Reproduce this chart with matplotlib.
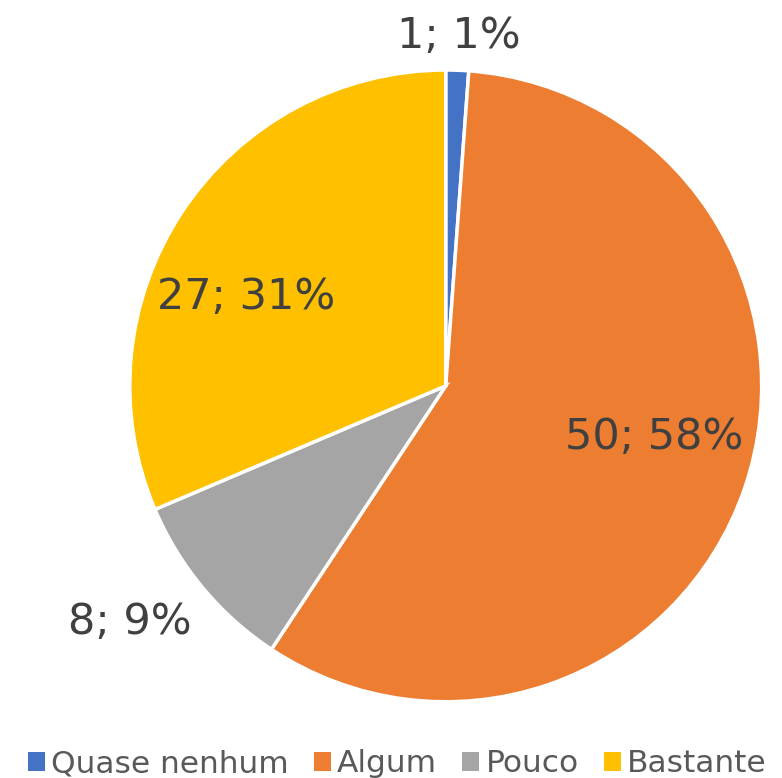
import numpy as np
import matplotlib.pyplot as plt
from matplotlib.patches import Patch

categorias = ['Quase nenhum', 'Algum', 'Pouco', 'Bastante']
valores = [1, 50, 8, 27]
percent = [1, 58, 9, 31]
cores = ['#4472C4', '#ED7D31', '#A5A5A5', '#FFC000']

fig = plt.figure(figsize=(7.82, 7.78), dpi=100)
ax = fig.add_axes([0.166, 0.098, 0.808, 0.812])

wedges, _ = ax.pie(valores, colors=cores, startangle=90, counterclock=False,
                   radius=1, wedgeprops=dict(edgecolor='white', linewidth=2.5))
ax.set_xlim(-1, 1)
ax.set_ylim(-1, 1)
ax.set_aspect('auto')
ax.axis('off')

# distancia radial e desvio angular de cada rotulo
dist = [1.11, 0.68, 1.25, 0.69]
desvio = [0, 5, -3, 9.5]
for w, v, p, d, da in zip(wedges, valores, percent, dist, desvio):
    ang = np.deg2rad((w.theta1 + w.theta2) / 2 + da)
    ax.text(d * np.cos(ang), d * np.sin(ang), '%d; %d%%' % (v, p),
            ha='center', va='center', fontsize=31, color='#404040')

handles = [Patch(facecolor=c, edgecolor='none') for c in cores]
fig.legend(handles, categorias, loc='center', bbox_to_anchor=(0.508, 0.018),
           ncol=4, frameon=False, fontsize=22.5, handlelength=0.55, handleheight=0.55,
           handletextpad=0.2, columnspacing=0.8, labelcolor='#595959')

fig.savefig('out.png', dpi=100)
